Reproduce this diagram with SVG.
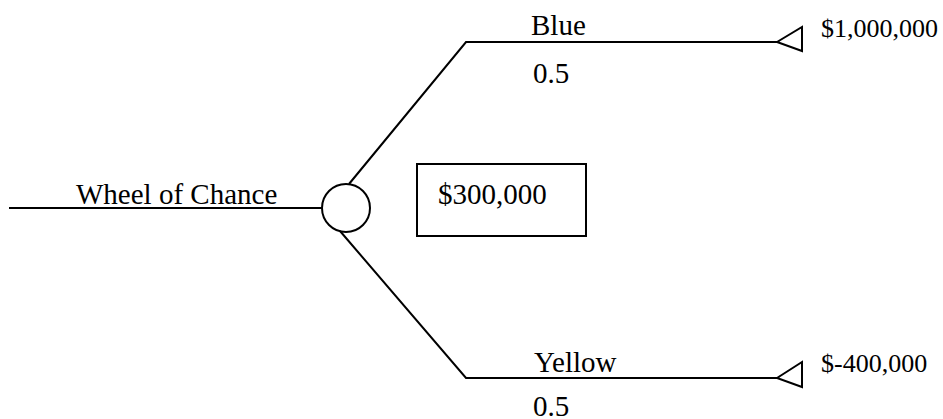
<svg xmlns="http://www.w3.org/2000/svg" width="943" height="419" viewBox="0 0 943 419">
<style>
.ln{fill:none;stroke:#000;stroke-width:2}
.t{font-family:"Liberation Serif","Times New Roman",serif;font-size:29px;fill:#000}
.v{font-family:"Liberation Serif","Times New Roman",serif;font-size:26px;fill:#000}
</style>
<rect width="943" height="419" fill="#fff"/>
<g id="connectors">
<polyline class="ln" points="9,208 322,208"/>
<polyline class="ln" points="349,184 466,42 777,42"/>
<polyline class="ln" points="340,231 466,378 777,378"/>
</g>
<g id="chance-node"><circle class="ln" cx="346" cy="208" r="24"/></g>
<g id="value-box"><rect class="ln" x="417" y="164" width="169" height="72"/><text class="t" x="438" y="204">$300,000</text></g>
<g id="end-blue"><polygon class="ln" points="777,42 802,27 802,51"/><text class="v" x="821" y="37">$1,000,000</text></g>
<g id="end-yellow"><polygon class="ln" points="777,378 802,362 802,387"/><text class="v" x="821" y="372">$-400,000</text></g>
<g id="labels">
<text class="t" x="76" y="204">Wheel of Chance</text>
<text class="t" x="531" y="35">Blue</text>
<text class="t" x="533" y="83">0.5</text>
<text class="t" x="534" y="372">Yellow</text>
<text class="t" x="533" y="416">0.5</text>
</g>
</svg>
